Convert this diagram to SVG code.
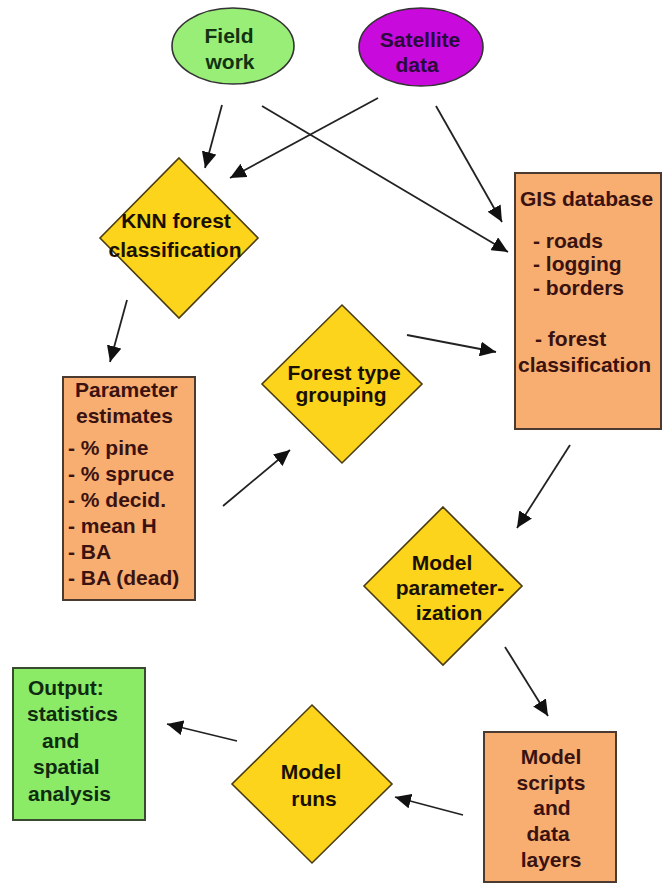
<svg xmlns="http://www.w3.org/2000/svg" width="663" height="884" viewBox="0 0 663 884">
<defs>
<marker id="ah" markerUnits="userSpaceOnUse" markerWidth="17" markerHeight="15" refX="16" refY="7.5" orient="auto">
<path d="M0,0 L16,7.5 L0,15 z" fill="#111"/>
</marker>
<style>
text{font-family:"Liberation Sans",Arial,sans-serif;font-weight:bold;font-size:21px}
.dia{fill:#FCD41C;stroke:#4a3c10;stroke-width:1.6}
.box{fill:#F7AE70;stroke:#4a3a30;stroke-width:2}
.gbox{fill:#8BEB67;stroke:#3a4a30;stroke-width:2}
.bt{fill:#3a1210}
.dt{fill:#1a1000}
.gt{fill:#102a10}
.c{text-anchor:middle}
.conn line{stroke:#222;stroke-width:1.8;marker-end:url(#ah)}
</style>
</defs>
<rect width="663" height="884" fill="#fff"/>
<g id="field-work">
<ellipse cx="233" cy="46" rx="61" ry="38" fill="#99EE77" stroke="#333" stroke-width="1.6"/>
<text class="c" x="229" y="43" fill="#113311">Field</text>
<text class="c" x="230" y="69" fill="#113311">work</text>
</g>
<g id="satellite-data">
<ellipse cx="421" cy="47" rx="62" ry="39" fill="#C80ADC" stroke="#333" stroke-width="1.6"/>
<text class="c" x="420" y="47" fill="#2a0a3a">Satellite</text>
<text class="c" x="417" y="72" fill="#2a0a3a">data</text>
</g>
<g id="knn">
<polygon class="dia" points="179,158 258,238 179,318 100,238"/>
<text class="c dt" x="176" y="228">KNN forest</text>
<text class="c dt" x="175" y="257">classification</text>
</g>
<g id="gis">
<rect class="box" x="515" y="173" width="146" height="256"/>
<text class="bt" x="520" y="206">GIS database</text>
<text class="bt" x="533" y="248">- roads</text>
<text class="bt" x="533" y="271">- logging</text>
<text class="bt" x="533" y="295">- borders</text>
<text class="bt" x="535" y="346">- forest</text>
<text class="bt" x="518" y="372">classification</text>
</g>
<g id="params">
<rect class="box" x="63" y="377" width="132" height="223"/>
<text class="bt" x="75" y="397">Parameter</text>
<text class="bt" x="76" y="423">estimates</text>
<text class="bt" x="68" y="455">- % pine</text>
<text class="bt" x="68" y="481">- % spruce</text>
<text class="bt" x="68" y="507">- % decid.</text>
<text class="bt" x="68" y="533">- mean H</text>
<text class="bt" x="68" y="559">- BA</text>
<text class="bt" x="68" y="585">- BA (dead)</text>
</g>
<g id="forest-type">
<polygon class="dia" points="342,305 422,384 342,463 262,384"/>
<text class="c dt" x="344" y="380">Forest type</text>
<text class="c dt" x="341" y="402">grouping</text>
</g>
<g id="model-param">
<polygon class="dia" points="443,507 522,586 443,665 364,586"/>
<text class="c dt" x="442" y="570">Model</text>
<text class="c dt" x="450" y="595">parameter-</text>
<text class="c dt" x="449" y="620">ization</text>
</g>
<g id="model-scripts">
<rect class="box" x="484" y="732" width="132" height="150"/>
<text class="c bt" x="551" y="764">Model</text>
<text class="c bt" x="551" y="790">scripts</text>
<text class="c bt" x="552" y="815">and</text>
<text class="c bt" x="548" y="841">data</text>
<text class="c bt" x="551" y="867">layers</text>
</g>
<g id="model-runs">
<polygon class="dia" points="312,705 392,784 312,863 232,784"/>
<text class="c dt" x="311" y="779">Model</text>
<text class="c dt" x="314" y="806">runs</text>
</g>
<g id="output">
<rect class="gbox" x="13" y="668" width="132" height="152"/>
<text class="gt" x="28" y="695">Output:</text>
<text class="gt" x="27" y="721">statistics</text>
<text class="gt" x="42" y="748">and</text>
<text class="gt" x="33" y="774">spatial</text>
<text class="gt" x="28" y="801">analysis</text>
</g>
<g id="connectors" class="conn">
<line x1="222" y1="105" x2="205" y2="168"/>
<line x1="378" y1="98" x2="230" y2="178"/>
<line x1="262" y1="106" x2="508" y2="252"/>
<line x1="436" y1="106" x2="502" y2="222"/>
<line x1="127" y1="300" x2="110" y2="362"/>
<line x1="223" y1="506" x2="290" y2="450"/>
<line x1="407" y1="335" x2="496" y2="352"/>
<line x1="570" y1="445" x2="517" y2="528"/>
<line x1="505" y1="647" x2="548" y2="716"/>
<line x1="463" y1="815" x2="395" y2="797"/>
<line x1="237" y1="741" x2="167" y2="724"/>
</g>
</svg>
